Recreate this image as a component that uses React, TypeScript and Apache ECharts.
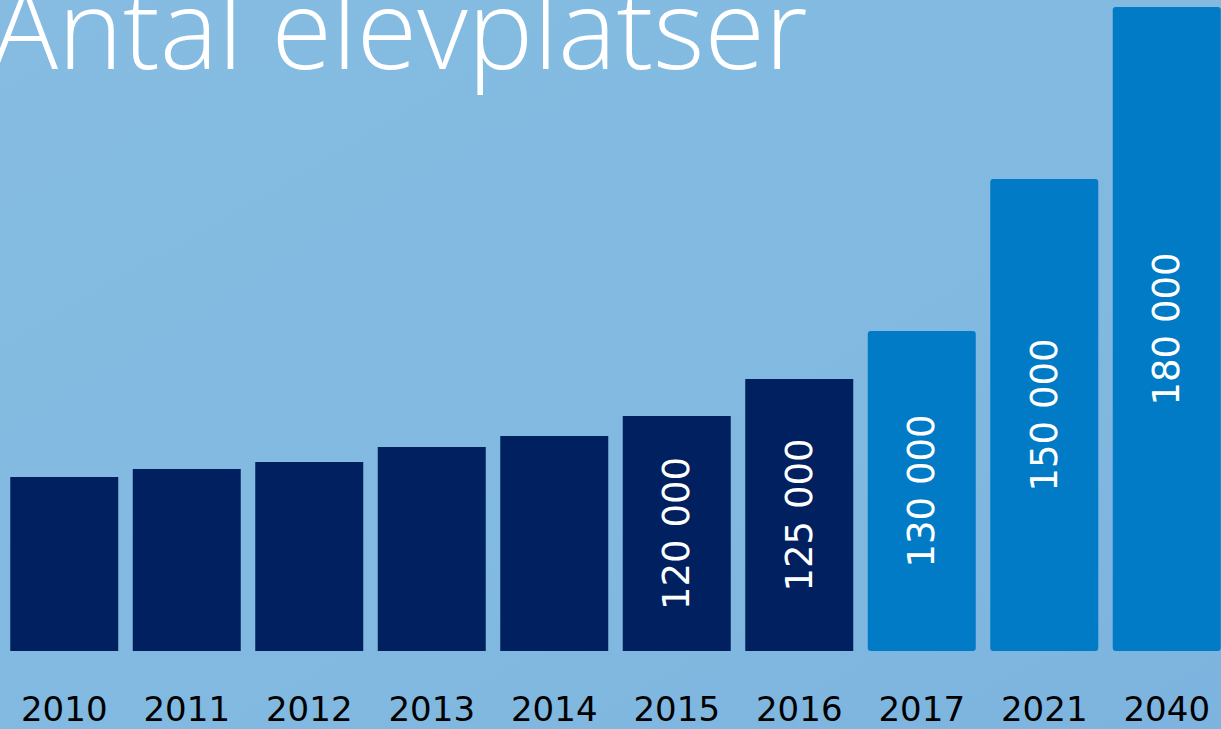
import React, { useEffect, useRef } from "react";
import * as echarts from "echarts";

// Categories (years)
const years = ["2010", "2011", "2012", "2013", "2014", "2015", "2016", "2017", "2021", "2040"];
// Bar heights as drawn in the picture (the graphic is not to scale; relative units)
const barHeights = [174, 182, 189, 204, 215, 235, 272, 320, 472, 644];
// Numbers printed inside the bars (null = no label)
const valueLabels = [null, null, null, null, null, "120 000", "125 000", "130 000", "150 000", "180 000"];
// Actual / forecast split: first 7 are actual, last 3 forecast
const isForecast = [false, false, false, false, false, false, false, true, true, true];

const title = "Antal elevplatser";

const DARK = "#00205F";
const LIGHT = "#017BC6";

export default function App() {
  const ref = useRef<HTMLDivElement>(null);
  useEffect(() => {
    if (!ref.current) return;
    const chart = echarts.init(ref.current, null, { renderer: "svg" });
    chart.setOption({
      animation: false,
      backgroundColor: {
        type: "linear",
        x: 0,
        y: 0,
        x2: 1,
        y2: 1,
        colorStops: [
          { offset: 0, color: "#86BCE2" },
          { offset: 0.6, color: "#81B9E0" },
          { offset: 1, color: "#7DB4DF" },
        ],
      },
      grid: { left: 3, right: 0, top: 1, bottom: 78 },
      xAxis: {
        type: "category",
        data: years,
        axisLine: { show: false },
        axisTick: { show: false },
        axisLabel: {
          color: "#000",
          fontFamily: "DejaVu Sans",
          fontSize: 34,
          margin: 58,
          verticalAlign: "middle",
        },
      },
      yAxis: {
        type: "value",
        min: 0,
        max: 650,
        show: false,
        splitLine: { show: false },
      },
      series: [
        {
          type: "bar",
          barWidth: 108,
          data: barHeights.map((v, i) => ({
            value: v,
            itemStyle: {
              color: isForecast[i] ? LIGHT : DARK,
              borderRadius: isForecast[i] ? 3 : 0,
            },
            label: {
              show: valueLabels[i] != null,
              formatter: () => valueLabels[i] ?? "",
            },
          })),
          label: {
            position: "inside",
            rotate: 90,
            color: "#fff",
            fontFamily: "DejaVu Sans",
            fontSize: 37,
            align: "center",
            verticalAlign: "middle",
          },
        },
      ],
      graphic: [
        {
          type: "text",
          x: -8,
          y: 26,
          style: {
            text: title,
            fill: "#fff",
            font: '300 110px "Open Sans"',
            verticalAlign: "middle",
          },
        },
      ],
    });
    return () => chart.dispose();
  }, []);
  return (
    <div style={{ position: "absolute", left: 0, top: 0, width: 1221, height: 729, overflow: "hidden" }}>
      <div ref={ref} style={{ position: "absolute", left: 0, top: 0, width: 1228, height: 729 }} />
    </div>
  );
}
